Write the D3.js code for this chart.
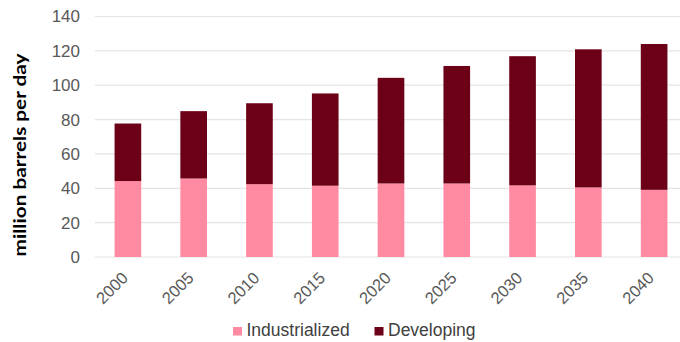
<!DOCTYPE html>
<html>
<head>
<meta charset="utf-8">
<script src="https://cdn.jsdelivr.net/npm/d3@7"></script>
<style>
  html, body { margin: 0; padding: 0; background: #fff; }
  svg { display: block; }
</style>
</head>
<body>
<svg id="chart" width="680" height="342"></svg>
<script>
// Oil demand, million barrels per day
const years = ["2000", "2005", "2010", "2015", "2020", "2025", "2030", "2035", "2040"];
const industrialized = [44.2, 45.7, 42.4, 41.5, 42.8, 42.8, 41.7, 40.5, 39.1];
const developing = [33.5, 39.2, 47.1, 53.7, 61.5, 68.4, 75.2, 80.4, 84.9];
const yTicks = [0, 20, 40, 60, 80, 100, 120, 140];
const seriesNames = ["Industrialized", "Developing"];
const seriesColors = ["#ff8aa1", "#6b0017"];

const rows = years.map((y, i) => ({ year: y, Industrialized: industrialized[i], Developing: developing[i] }));
const stacked = d3.stack().keys(seriesNames)(rows);

const svg = d3.select("#chart");

const x = d3.scaleBand().domain(years).range([95, 687]).paddingInner(0.595).paddingOuter(0.2975);
const y = d3.scaleLinear().domain([0, 140]).range([257, 16.5]);

// horizontal gridlines
svg.append("g")
  .selectAll("line")
  .data(yTicks)
  .join("line")
  .attr("x1", 95).attr("x2", 687)
  .attr("y1", d => y(d)).attr("y2", d => y(d))
  .attr("stroke", "#e4e4e4").attr("stroke-width", 1.2);

// y axis labels
const yAxis = svg.append("g")
  .attr("transform", "translate(80,0)")
  .call(d3.axisLeft(y).tickValues(yTicks).tickSize(0).tickPadding(0));
yAxis.select(".domain").remove();
yAxis.selectAll("text")
  .attr("font-family", "Liberation Sans, Arial, sans-serif")
  .attr("font-size", 17)
  .attr("fill", "#595959");

// stacked bars
svg.append("g")
  .selectAll("g")
  .data(stacked)
  .join("g")
  .attr("fill", (d, i) => seriesColors[i])
  .selectAll("rect")
  .data(d => d)
  .join("rect")
  .attr("x", d => x(d.data.year))
  .attr("width", x.bandwidth())
  .attr("y", d => y(d[1]))
  .attr("height", d => y(d[0]) - y(d[1]));

// x axis labels, rotated
const xAxis = svg.append("g")
  .attr("transform", "translate(0,257)")
  .call(d3.axisBottom(x).tickSize(0).tickPadding(0));
xAxis.select(".domain").remove();
xAxis.selectAll("text")
  .attr("font-family", "Liberation Sans, Arial, sans-serif")
  .attr("font-size", 16.5)
  .attr("fill", "#595959")
  .attr("text-anchor", "end")
  .attr("dy", null)
  .attr("y", 0)
  .attr("transform", "translate(1,22) rotate(-45)");

// y axis title
svg.append("text")
  .attr("transform", "translate(26,155) rotate(-90)")
  .attr("text-anchor", "middle")
  .attr("font-family", "Lato, 'Open Sans', sans-serif")
  .attr("font-weight", "bold")
  .attr("font-size", 16.5)
  .attr("fill", "#000")
  .attr("textLength", 203)
  .attr("lengthAdjust", "spacingAndGlyphs")
  .text("million barrels per day");

// legend
const legendX = [233, 374.5];
const legend = svg.append("g")
  .selectAll("g")
  .data(seriesNames)
  .join("g")
  .attr("transform", (d, i) => `translate(${legendX[i]},327)`);
legend.append("rect")
  .attr("width", 9).attr("height", 8.5)
  .attr("fill", (d, i) => seriesColors[i]);
legend.append("text")
  .attr("x", 13.5).attr("y", 8.5)
  .attr("font-family", "Liberation Sans, Arial, sans-serif")
  .attr("font-size", 17.5)
  .attr("fill", "#404040")
  .text(d => d);
</script>
</body>
</html>
